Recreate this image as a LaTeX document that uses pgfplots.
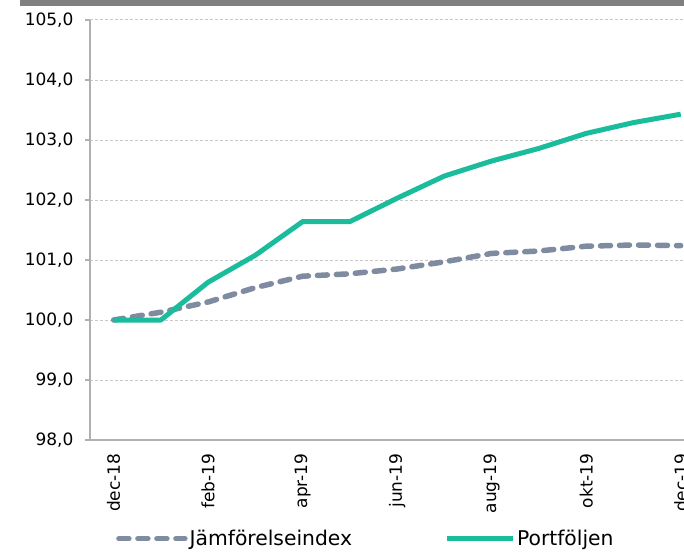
\documentclass[border=0pt]{standalone}
\usepackage{fontspec}
\setmainfont{DejaVu Sans}
\usepackage{pgfplots}
\pgfplotsset{compat=1.18}
\definecolor{port}{RGB}{26,188,156}
\definecolor{idx}{RGB}{127,139,160}
\definecolor{axgray}{RGB}{176,176,176}
\definecolor{gridgray}{RGB}{200,200,200}
\definecolor{bargray}{RGB}{128,128,128}
\begin{document}
\begin{tikzpicture}[x=1pt,y=1pt]
\fill[bargray] (20,545) rectangle (684,551);
\begin{axis}[
  at={(90pt,111pt)}, anchor=south west,
  scale only axis, width=594pt, height=420pt,
  xmin=-0.5, xmax=12.07, ymin=98, ymax=105,
  axis lines*=left,
  axis line style={draw=axgray, line width=1.5pt},
  ytick={98,99,...,105},
  ymajorgrids,
  grid style={dashed, dash pattern=on 3pt off 2pt, draw=gridgray, line width=1pt},
  tick style={draw=axgray, line width=1.5pt},
  tick align=outside,
  major tick length=5pt,
  xtick={0,2,...,12},
  xticklabels={dec-18,feb-19,apr-19,jun-19,aug-19,okt-19,dec-19},
  x tick style={draw=none},
  extra x ticks={-0.5,1.5,3.5,5.5,7.5,9.5,11.5},
  extra x tick labels={},
  extra x tick style={grid=none, major tick length=7pt, tick style={draw=axgray, line width=1.5pt}},
  /pgf/number format/.cd, fixed, fixed zerofill, precision=1, use comma, assume math mode=true,
  /pgfplots/.cd,
  yticklabel style={font=\fontsize{17}{19}\selectfont, xshift=-8pt},
  xticklabel style={font=\fontsize{17}{19}\selectfont, yshift=-5pt, rotate=90, anchor=east},
  legend columns=2,
  legend style={at={(0.0437,-0.235)}, anchor=west, draw=none, fill=none,
    font=\fontsize{20.3}{24}\selectfont, inner sep=0pt,
    /tikz/every even column/.append style={column sep=90pt}},
  legend image code/.code={\draw[#1] (0pt,0pt) -- (66pt,0pt); \path (66pt,0pt);},
]
\addplot[color=idx, line width=5.5pt, dash pattern=on 10pt off 9pt, line cap=round, line join=round]
coordinates {(0,100.00) (1,100.13) (2,100.30) (3,100.54) (4,100.73) (5,100.77) (6,100.85) (7,100.97) (8,101.11) (9,101.15) (10,101.23) (11,101.25) (12,101.24)};
\addlegendentry{Jämförelseindex}
\addplot[color=port, line width=5pt, line join=round]
coordinates {(0,100.00) (1,100.00) (2,100.63) (3,101.08) (4,101.64) (5,101.64) (6,102.03) (7,102.40) (8,102.65) (9,102.86) (10,103.11) (11,103.29) (12,103.43)};
\addlegendentry{Portföljen}
\end{axis}
\pgfresetboundingbox
\path[use as bounding box] (0,0) rectangle (684,551);
\end{tikzpicture}
\end{document}
